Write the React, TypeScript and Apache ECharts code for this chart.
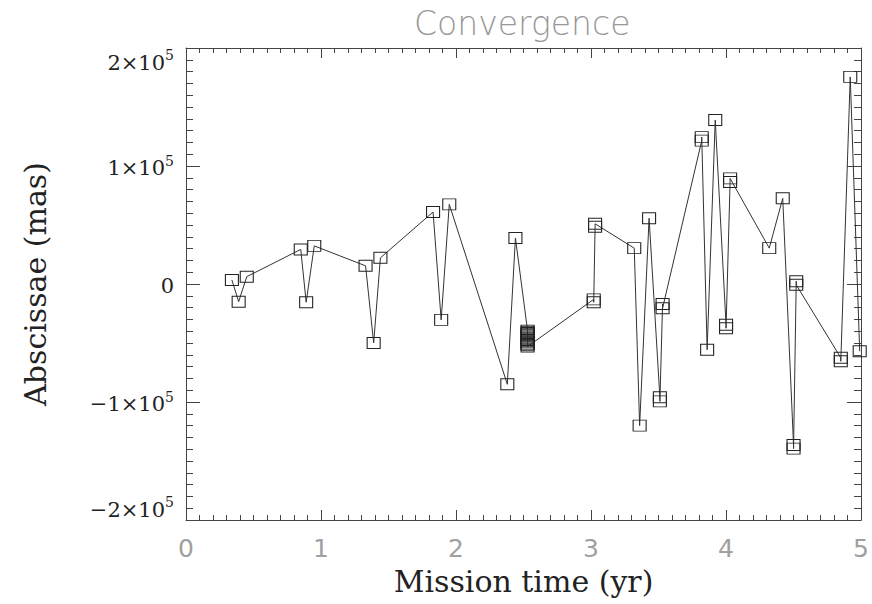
import React, { useEffect, useRef } from "react";
import * as echarts from "echarts";

// Mission time (yr) of each observation, in order
const times: number[] = [
  0.34, 0.39, 0.45, 0.85, 0.89, 0.95, 1.33, 1.39, 1.44, 1.83, 1.89, 1.95,
  2.38, 2.44,
  2.53, 2.53, 2.53, 2.53, 2.53, 2.53, 2.53, 2.53, 2.53, 2.53, 2.53, 2.53, 2.53, 2.53,
  3.02, 3.02, 3.03, 3.03, 3.32, 3.36, 3.43,
  3.51, 3.51, 3.53, 3.53, 3.82, 3.82, 3.86, 3.92,
  4.0, 4.0, 4.03, 4.03, 4.32, 4.42, 4.5, 4.5, 4.52, 4.52, 4.85, 4.85, 4.92, 4.99,
];
// Abscissae (mas)
const abscissae: number[] = [
  3400, -15000, 6200, 29300, -15400, 32300, 15400, -50000, 22200, 61000, -30400, 67500,
  -85000, 39000,
  -39500, -40500, -41500, -42500, -43500, -44500, -45500, -46500, -47500, -48500, -49500, -50500, -51500, -53000,
  -13000, -15500, 48500, 51000, 30400, -120000, 55700,
  -96000, -99500, -17000, -20500, 121500, 124500, -55700, 139000,
  -34500, -37500, 86500, 89500, 30400, 72600, -136500, -139500, 2300, -700, -62500, -65500, 175500, -57000,
];
const xTicks = { min: 0, max: 5, interval: 1 };
const yTicks = { min: -200000, max: 200000, interval: 100000 };

const serif = "DejaVu Serif";
const sans = "DejaVu Sans";

export default function App() {
  const ref = useRef<HTMLDivElement>(null);
  useEffect(() => {
    if (!ref.current) return;
    const chart = echarts.init(ref.current, undefined, { renderer: "svg" });
    const data = times.map((t, i) => [t, abscissae[i]]);
    const axisLineStyle = { color: "#444", width: 1 };
    const yFmt = (v: number) => {
      if (v === 0) return "{n|0}";
      const m = v / 100000;
      return `{n|${m < 0 ? "\u2212" : ""}${Math.abs(m)}\u00d710}{s|5}`;
    };
    const yRich = {
      n: { fontFamily: serif, fontSize: 21, color: "#222", lineHeight: 25, verticalAlign: "bottom" },
      s: { fontFamily: serif, fontSize: 14, color: "#222", lineHeight: 25, verticalAlign: "top" },
    };
    chart.setOption({
      animation: false,
      backgroundColor: "#fff",
      grid: { left: 186, right: 9, top: 48, bottom: 84, containLabel: false },
      graphic: [
        {
          type: "text",
          left: 414,
          top: 7,
          style: { text: "Convergence", fontFamily: sans, fontSize: 33, fill: "#999", fontWeight: 300 },
        },
      ],
      xAxis: [
        {
          type: "value",
          position: "bottom",
          ...xTicks,
          name: "Mission time (yr)",
          nameLocation: "middle",
          nameGap: 46,
          nameTextStyle: { fontFamily: serif, fontSize: 30, color: "#222" },
          axisLine: { show: true, onZero: false, lineStyle: axisLineStyle },
          axisTick: { show: true, inside: true, length: 10, lineStyle: axisLineStyle },
          minorTick: { show: true, splitNumber: 10, length: 5, lineStyle: axisLineStyle },
          splitLine: { show: false },
          axisLabel: { fontFamily: sans, fontSize: 25, color: "#a0a0a0", margin: 16 },
        },
        {
          type: "value",
          position: "top",
          ...xTicks,
          axisLine: { show: true, onZero: false, lineStyle: axisLineStyle },
          axisTick: { show: true, inside: true, length: 10, lineStyle: axisLineStyle },
          minorTick: { show: true, splitNumber: 10, length: 5, lineStyle: axisLineStyle },
          splitLine: { show: false },
          axisLabel: { show: false },
        },
      ],
      yAxis: [
        {
          type: "value",
          position: "left",
          ...yTicks,
          name: "Abscissae (mas)",
          nameLocation: "middle",
          nameGap: 136,
          nameRotate: 90,
          nameTextStyle: { fontFamily: serif, fontSize: 30, color: "#222" },
          axisLine: { show: true, onZero: false, lineStyle: axisLineStyle },
          axisTick: { show: true, inside: true, length: 14, lineStyle: axisLineStyle },
          minorTick: { show: true, splitNumber: 10, length: 7, lineStyle: axisLineStyle },
          splitLine: { show: false },
          axisLabel: {
            formatter: yFmt,
            rich: yRich,
            margin: 12,
            verticalAlignMaxLabel: "top",
            verticalAlignMinLabel: "bottom",
          },
        },
        {
          type: "value",
          position: "right",
          ...yTicks,
          axisLine: { show: true, onZero: false, lineStyle: axisLineStyle },
          axisTick: { show: true, inside: true, length: 14, lineStyle: axisLineStyle },
          minorTick: { show: true, splitNumber: 10, length: 7, lineStyle: axisLineStyle },
          splitLine: { show: false },
          axisLabel: { show: false },
        },
      ],
      series: [
        {
          type: "line",
          xAxisIndex: 0,
          yAxisIndex: 0,
          data,
          symbol: "rect",
          symbolSize: [13, 11],
          showSymbol: true,
          clip: false,
          lineStyle: { color: "#333", width: 1 },
          itemStyle: { color: "rgba(255,255,255,0)", borderColor: "#222", borderWidth: 1 },
          emphasis: { disabled: true },
        },
      ],
    });
    return () => chart.dispose();
  }, []);
  return (
    <div
      ref={ref}
      style={{ position: "fixed", left: 0, top: 0, width: 872, height: 604, background: "#fff" }}
    />
  );
}
